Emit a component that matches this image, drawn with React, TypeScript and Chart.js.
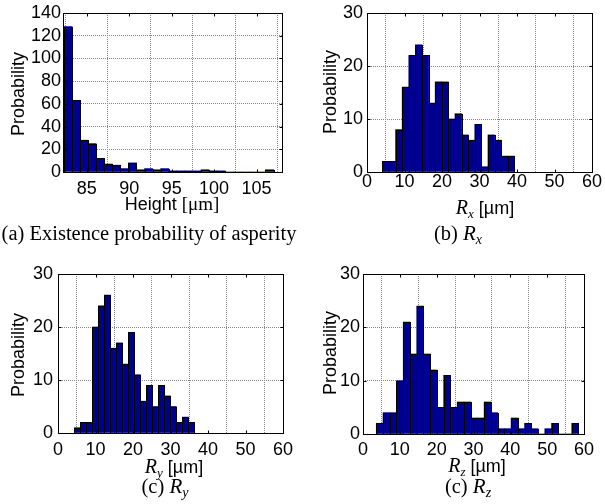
import React, { useEffect, useRef } from "react";
import { Chart, registerables } from "chart.js";

Chart.register(...registerables);

// ---------- data ----------
const heightCenters = [82.78, 83.73, 84.68, 85.63, 86.58, 87.53, 88.48, 89.43, 90.38, 91.33, 92.28, 93.23, 94.18, 95.13, 96.08, 97.03, 97.98, 98.93, 99.88, 100.83, 101.78, 102.73, 103.68, 104.63, 105.58, 106.53];
const heightCounts = [128, 63, 28, 25, 12, 7, 6, 3, 8, 2, 3, 2, 3, 1, 1, 1, 1, 2, 1, 1, 0, 0, 0, 0, 0, 2];
const heightXTicks = [85, 90, 95, 100, 105];
const heightYTicks = [0, 20, 40, 60, 80, 100, 120, 140];

const rxCenters = [4.98, 6.74, 8.5, 10.26, 12.02, 13.78, 15.54, 17.3, 19.06, 20.82, 22.58, 24.34, 26.1, 27.86, 29.62, 31.38, 33.14, 34.9, 36.66, 38.42];
const rxCounts = [2, 2, 8, 16, 22, 24, 22, 13, 17, 17, 10, 11, 7, 6, 9, 1, 7, 6, 3, 3];

const ryCenters = [5.16, 6.76, 8.36, 9.96, 11.56, 13.16, 14.76, 16.36, 17.96, 19.56, 21.16, 22.76, 24.36, 25.96, 27.56, 29.16, 30.76, 32.36, 33.96, 35.56];
const ryCounts = [1, 2, 2, 20, 24, 26, 16, 17, 13, 19, 11, 6, 9, 5, 9, 7, 5, 2, 3, 2];

const rzCenters = [4.52, 6.35, 8.18, 10.01, 11.84, 13.67, 15.5, 17.33, 19.16, 20.99, 22.82, 24.65, 26.48, 28.31, 30.14, 31.97, 33.8, 35.63, 37.46, 39.29, 41.12, 42.95, 44.78, 46.61, 48.44, 50.27, 52.1, 53.93, 55.76, 57.59];
const rzCounts = [2, 4, 4, 10, 21, 15, 24, 15, 12, 5, 11, 5, 6, 6, 3, 3, 6, 4, 1, 1, 3, 1, 2, 1, 0, 1, 2, 0, 0, 2];

const rXTicks = [0, 10, 20, 30, 40, 50, 60];
const rYTicks = [0, 10, 20, 30];

// ---------- styling ----------
const W = 605;
const H = 504;
const SANS = "'Liberation Sans', Arial, sans-serif";
const SERIF = "'Liberation Serif', 'Times New Roman', serif";
const BAR_FILL = "#000090";

type Panel = {
  centers: number[];
  counts: number[];
  xMin: number;
  xMax: number;
  xTicks: number[];
  yMax: number;
  yTicks: number[];
  rect: { l: number; t: number; r: number; b: number };
  xPad: number;
  yPad: number;
};

const panels: Panel[] = [
  { centers: heightCenters, counts: heightCounts, xMin: 82.2, xMax: 108.0, xTicks: heightXTicks, yMax: 140, yTicks: heightYTicks, rect: { l: 63, t: 13, r: 282, b: 172 }, xPad: 8, yPad: 2 },
  { centers: rxCenters, counts: rxCounts, xMin: 0, xMax: 60, xTicks: rXTicks, yMax: 30, yTicks: rYTicks, rect: { l: 367, t: 10, r: 592, b: 172 }, xPad: 1, yPad: 4 },
  { centers: ryCenters, counts: ryCounts, xMin: 0, xMax: 60, xTicks: rXTicks, yMax: 30, yTicks: rYTicks, rect: { l: 58, t: 274, r: 283, b: 433 }, xPad: 8, yPad: 5 },
  { centers: rzCenters, counts: rzCounts, xMin: 0, xMax: 60, xTicks: rXTicks, yMax: 30, yTicks: rYTicks, rect: { l: 363, t: 274, r: 584, b: 434 }, xPad: 7, yPad: 3 },
];

const outlinePlugin = {
  id: "barOutline",
  afterDatasetsDraw(chart: any) {
    const { ctx } = chart;
    const meta = chart.getDatasetMeta(0);
    const ds = chart.data.datasets[0].data as any[];
    ctx.save();
    ctx.strokeStyle = "#000";
    ctx.lineWidth = 1;
    meta.data.forEach((bar: any, i: number) => {
      if (!ds[i] || !ds[i].y) return;
      const p = bar.getProps(["x", "y", "base", "width"], true);
      const x0 = Math.round(p.x - p.width / 2) + 0.5;
      const x1 = Math.round(p.x + p.width / 2) + 0.5;
      const y0 = Math.round(p.y) + 0.5;
      const y1 = Math.round(p.base) + 0.5;
      ctx.strokeRect(x0, y0, x1 - x0, y1 - y0);
    });
    ctx.restore();
  },
};

const framePlugin = {
  id: "frame",
  afterDraw(chart: any) {
    const { ctx, chartArea } = chart;
    const L = Math.round(chartArea.left) + 0.5;
    const T = Math.round(chartArea.top) + 0.5;
    const R = Math.round(chartArea.right) + 0.5;
    const B = Math.round(chartArea.bottom) + 0.5;
    ctx.save();
    ctx.strokeStyle = "#000";
    ctx.lineWidth = 1;
    ctx.strokeRect(L, T, R - L, B - T);
    const tl = 3;
    ctx.beginPath();
    chart.scales.x.ticks.forEach((t: any) => {
      const px = Math.round(chart.scales.x.getPixelForValue(t.value)) + 0.5;
      ctx.moveTo(px, B);
      ctx.lineTo(px, B - tl);
      ctx.moveTo(px, T);
      ctx.lineTo(px, T + tl);
    });
    chart.scales.y.ticks.forEach((t: any) => {
      const py = Math.round(chart.scales.y.getPixelForValue(t.value)) + 0.5;
      ctx.moveTo(L, py);
      ctx.lineTo(L + tl, py);
      ctx.moveTo(R, py);
      ctx.lineTo(R - tl, py);
    });
    ctx.stroke();
    ctx.restore();
  },
};

function HistPanel({ p }: { p: Panel }) {
  const ref = useRef<HTMLCanvasElement | null>(null);
  useEffect(() => {
    if (!ref.current) return;
    const { rect } = p;
    const chart = new Chart(ref.current, {
      type: "bar",
      data: {
        datasets: [
          {
            data: p.centers.map((x, i) => ({ x, y: p.counts[i] })),
            backgroundColor: BAR_FILL,
            borderWidth: 0,
            barPercentage: 1,
            categoryPercentage: 1,
            grouped: false,
          } as any,
        ],
      },
      options: {
        animation: false,
        responsive: false,
        maintainAspectRatio: false,
        events: [],
        layout: { padding: { left: 0, top: rect.t, right: W - rect.r, bottom: 0 } },
        plugins: { legend: { display: false }, tooltip: { enabled: false } },
        scales: {
          x: {
            type: "linear",
            offset: false,
            min: p.xMin,
            max: p.xMax,
            afterBuildTicks: (s: any) => {
              s.ticks = p.xTicks.map((v) => ({ value: v }));
            },
            afterFit: (s: any) => {
              s.height = H - rect.b;
            },
            grid: { color: "#888", lineWidth: 1, drawTicks: false },
            border: { display: false, dash: [1, 1] },
            ticks: {
              color: "#000",
              padding: p.xPad,
              maxRotation: 0,
              autoSkip: false,
              font: { family: SANS, size: 18, lineHeight: 1 },
            },
          },
          y: {
            type: "linear",
            min: 0,
            max: p.yMax,
            afterBuildTicks: (s: any) => {
              s.ticks = p.yTicks.map((v) => ({ value: v }));
            },
            afterFit: (s: any) => {
              s.width = rect.l;
            },
            grid: { color: "#888", lineWidth: 1, drawTicks: false },
            border: { display: false, dash: [1, 1] },
            ticks: {
              color: "#000",
              padding: p.yPad,
              autoSkip: false,
              font: { family: SANS, size: 18, lineHeight: 1 },
            },
          },
        } as any,
      },
      plugins: [outlinePlugin, framePlugin],
    });
    return () => chart.destroy();
  }, [p]);
  return (
    <canvas
      ref={ref}
      width={W}
      height={H}
      style={{ position: "absolute", left: 0, top: 0, width: W, height: H }}
    />
  );
}

function Txt({ x, y, rot, size, family, children }: any) {
  return (
    <div
      style={{
        position: "absolute",
        left: x,
        top: y,
        transform: `translate(-50%, -50%)${rot ? " rotate(-90deg)" : ""}`,
        whiteSpace: "nowrap",
        lineHeight: 1,
        fontSize: size,
        fontFamily: family,
        color: "#000",
      }}
    >
      {children}
    </div>
  );
}

function RLabel({ sub, big = 20, small = 13 }: { sub: string; big?: number; small?: number }) {
  return (
    <>
      <span style={{ fontFamily: SERIF, fontStyle: "italic", fontSize: big }}>R</span>
      <span style={{ fontFamily: SERIF, fontStyle: "italic", fontSize: small, position: "relative", top: 4 }}>{sub}</span>
    </>
  );
}

export default function App() {
  return (
    <div style={{ position: "absolute", left: 0, top: 0, width: W, height: H, background: "#fff", overflow: "hidden" }}>
      {panels.map((p, i) => (
        <HistPanel key={i} p={p} />
      ))}
      <Txt x={18} y={94} rot size={18} family={SANS}>Probability</Txt>
      <Txt x={330} y={92} rot size={18} family={SANS}>Probability</Txt>
      <Txt x={18} y={355} rot size={18} family={SANS}>Probability</Txt>
      <Txt x={330} y={353} rot size={18} family={SANS}>Probability</Txt>

      <Txt x={172} y={203} size={18} family={SANS}>
        Height <span style={{ fontFamily: SERIF, fontSize: 19 }}>[μm]</span>
      </Txt>
      <Txt x={485} y={207} size={18} family={SANS}>
        <RLabel sub="x" /> [µm]
      </Txt>
      <Txt x={174} y={466} size={18} family={SANS}>
        <RLabel sub="y" /> [µm]
      </Txt>
      <Txt x={477} y={465} size={18} family={SANS}>
        <RLabel sub="z" /> [µm]
      </Txt>

      <Txt x={149} y={233} size={20.5} family={SERIF}>(a) Existence probability of asperity</Txt>
      <Txt x={458} y={233} size={20.5} family={SERIF}>
        (b) <RLabel sub="x" big={21} small={14} />
      </Txt>
      <Txt x={165} y={486} size={20.5} family={SERIF}>
        (c) <RLabel sub="y" big={21} small={14} />
      </Txt>
      <Txt x={468} y={486} size={20.5} family={SERIF}>
        (c) <RLabel sub="z" big={21} small={14} />
      </Txt>
    </div>
  );
}
